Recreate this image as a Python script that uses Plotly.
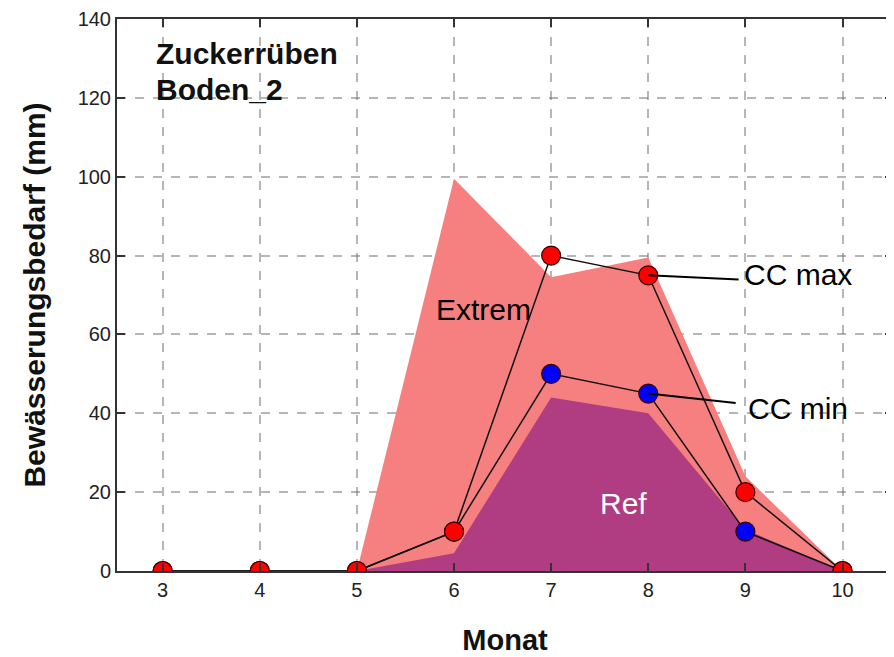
import plotly.graph_objects as go

months = [3, 4, 5, 6, 7, 8, 9, 10]
extrem = [0, 0, 0, 99.5, 74.5, 79.5, 24, 0]
ref = [0, 0, 0, 4.5, 44, 40, 10.5, 0]
cc_max = [0, 0, 0, 10, 80, 75, 20, 0]
cc_min = [0, 0, 0, 10, 50, 45, 10, 0]
y_ticks = [0, 20, 40, 60, 80, 100, 120, 140]

FONT = "Liberation Sans, Arial, sans-serif"

fig = go.Figure()
fig.add_trace(go.Scatter(x=months, y=extrem, mode="lines", fill="tozeroy",
                         line=dict(width=0, color="#f67f7f"), fillcolor="#f67f7f",
                         showlegend=False, hoverinfo="skip"))
fig.add_trace(go.Scatter(x=months, y=ref, mode="lines", fill="tozeroy",
                         line=dict(width=0, color="#b03c82"), fillcolor="#b03c82",
                         showlegend=False, hoverinfo="skip"))
fig.add_trace(go.Scatter(x=months, y=cc_min, mode="lines+markers",
                         line=dict(color="#111111", width=1.5),
                         marker=dict(size=19, color="#0000ff", line=dict(color="#3a0000", width=1.2)),
                         showlegend=False))
fig.add_trace(go.Scatter(x=months, y=cc_max, mode="lines+markers",
                         line=dict(color="#111111", width=1.5),
                         marker=dict(size=19, color="#ff0000", line=dict(color="#3a0000", width=1.2)),
                         showlegend=False))

# connector lines to labels
fig.add_shape(type="line", x0=months[5], y0=cc_max[5], x1=8.93, y1=73.9,
              line=dict(color="black", width=2))
fig.add_shape(type="line", x0=months[5], y0=cc_min[5], x1=8.90, y1=42.6,
              line=dict(color="black", width=2))

fig.add_annotation(x=8.97, y=75.2, text="CC max", showarrow=False, xanchor="left",
                   font=dict(family=FONT, size=30, color="black"))
fig.add_annotation(x=9.01, y=41.1, text="CC min", showarrow=False, xanchor="left",
                   font=dict(family=FONT, size=30, color="black"))
fig.add_annotation(x=6.30, y=66.3, text="Extrem", showarrow=False,
                   font=dict(family=FONT, size=30, color="black"))
fig.add_annotation(x=7.74, y=17.2, text="Ref", showarrow=False,
                   font=dict(family=FONT, size=30, color="white"))
fig.add_annotation(xref="paper", x=0.048, y=131.2, text="<b>Zuckerrüben</b>",
                   showarrow=False, xanchor="left",
                   font=dict(family=FONT, size=30, color="#111111"))
fig.add_annotation(xref="paper", x=0.048, y=122.1, text="<b>Boden_2</b>",
                   showarrow=False, xanchor="left",
                   font=dict(family=FONT, size=30, color="#111111"))

axis_common = dict(showline=True, linecolor="#333333", linewidth=2, mirror="ticks",
                   ticks="inside", ticklen=8, tickcolor="#333333", tickwidth=1.5,
                   showgrid=True, gridcolor="rgba(110,110,110,0.5)", griddash="dash", gridwidth=1.5,
                   zeroline=False, layer="above traces", automargin=False,
                   ticklabeloverflow="allow",
                   tickfont=dict(family=FONT, size=20, color="#222222"))

fig.update_xaxes(range=[2.53, 10.52], tickvals=months, ticktext=[str(m) for m in months],
                 title=dict(text="<b>Monat</b>", font=dict(family=FONT, size=29, color="#111111"),
                            standoff=30),
                 **axis_common)
fig.update_yaxes(range=[0, 140], tickvals=y_ticks,
                 title=dict(text="<b>Bewässerungsbedarf (mm)</b>",
                            font=dict(family=FONT, size=30, color="#111111"), standoff=23),
                 **axis_common)

# page body has an 8px margin; size the figure so the plot area lands where the reference has it
fig.update_layout(width=886, height=649, paper_bgcolor="white", plot_bgcolor="white",
                  margin=dict(l=109, r=1, t=11, b=86), showlegend=False)

fig.write_html("out.html")
